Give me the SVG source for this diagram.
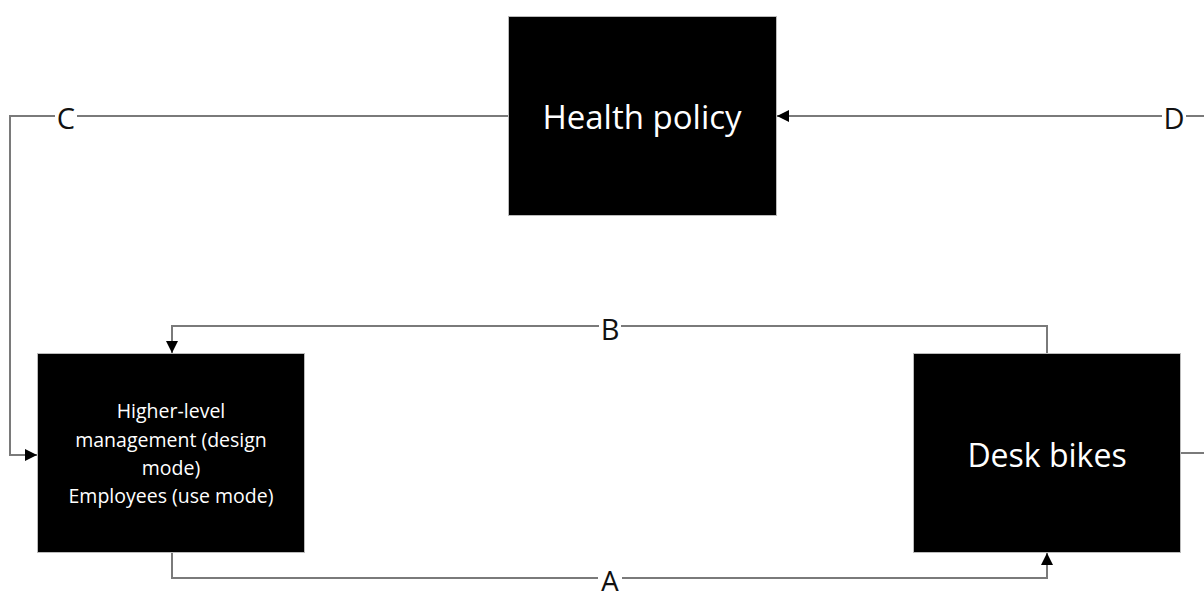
<svg xmlns="http://www.w3.org/2000/svg" width="1204" height="591" viewBox="0 0 1204 591">
<defs>
<marker id="arr" viewBox="0 0 10 10" refX="10" refY="5" markerWidth="12" markerHeight="12" markerUnits="userSpaceOnUse" orient="auto">
<path d="M0,0 L10,5 L0,10 z" fill="#000"/>
</marker>
</defs>
<style>
.box{fill:#000;stroke:#bbb;stroke-width:1}
.wt{fill:#fff;font-family:"Open Sans","Noto Sans",sans-serif;text-anchor:middle;dominant-baseline:central}
.conn{fill:none;stroke:#7a7a7a;stroke-width:2}
.lbl{fill:#111;font-family:"Open Sans","Noto Sans",sans-serif;font-size:29px;text-anchor:middle;dominant-baseline:central}
.bg{fill:#fff}
</style>
<rect width="1204" height="591" fill="#fff"/>
<g id="connectors">
<path class="conn" d="M508,116 H10 V455 H37" marker-end="url(#arr)"/>
<path class="conn" d="M1204,116 H777" marker-end="url(#arr)"/>
<path class="conn" d="M1047,353 V326 H172 V353" marker-end="url(#arr)"/>
<path class="conn" d="M172,553 V578 H1047 V553" marker-end="url(#arr)"/>
<path class="conn" d="M1181,453 H1204"/>
<rect class="bg" x="55" y="100" width="22" height="32"/>
<text class="lbl" x="66" y="117">C</text>
<rect class="bg" x="1162" y="100" width="24" height="32"/>
<text class="lbl" x="1174" y="117">D</text>
<rect class="bg" x="599" y="312" width="22" height="32"/>
<text class="lbl" x="610" y="328">B</text>
<rect class="bg" x="598" y="564" width="24" height="27"/>
<text class="lbl" x="610" y="580">A</text>
</g>
<g id="health-policy">
<rect class="box" x="508.5" y="16.5" width="268" height="199"/>
<text class="wt" x="642" y="116" font-size="33">Health policy</text>
</g>
<g id="management">
<rect class="box" x="37.5" y="353.5" width="267" height="199"/>
<text class="wt" x="171" y="410" font-size="19.5">Higher-level</text>
<text class="wt" x="171" y="439" font-size="19.5">management (design</text>
<text class="wt" x="171" y="467" font-size="19.5">mode)</text>
<text class="wt" x="171" y="495" font-size="19.5">Employees (use mode)</text>
</g>
<g id="desk-bikes">
<rect class="box" x="913.5" y="353.5" width="267" height="199"/>
<text class="wt" x="1047" y="454" font-size="32">Desk bikes</text>
</g>
</svg>
